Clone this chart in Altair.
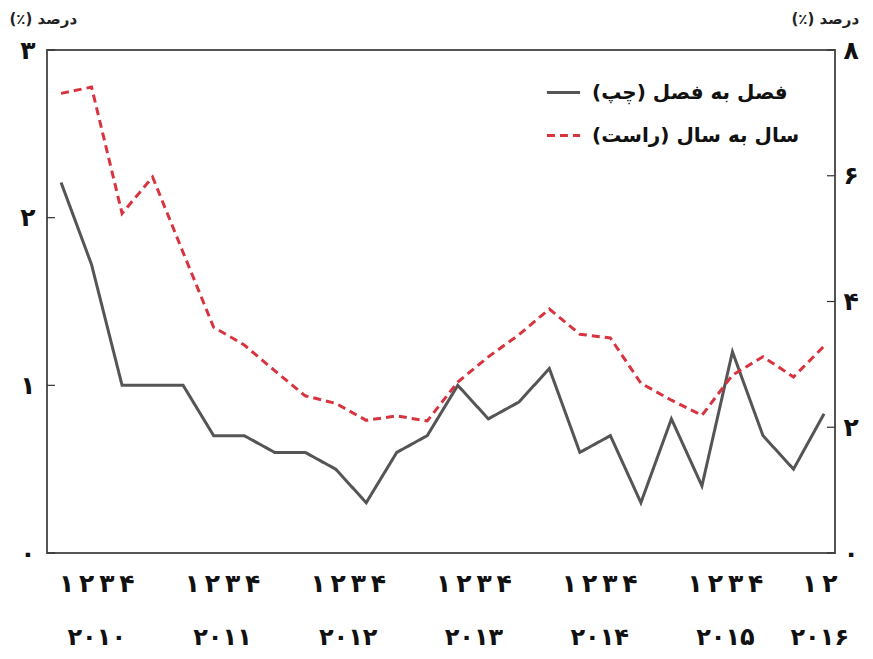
import altair as alt
import pandas as pd

# ---- data ----
quarters = list(range(26))  # 2010Q1 .. 2016Q2
qoq = [2.21, 1.72, 1.0, 1.0, 1.0, 0.7, 0.7, 0.6, 0.6, 0.5, 0.3, 0.6, 0.7,
       1.0, 0.8, 0.9, 1.1, 0.6, 0.7, 0.3, 0.8, 0.4, 1.2, 0.7, 0.5, 0.83]
yoy = [7.31, 7.41, 5.40, 5.98, 4.78, 3.59, 3.31, 2.9, 2.5, 2.38, 2.11, 2.18, 2.1,
       2.72, 3.12, 3.47, 3.88, 3.48, 3.42, 2.7, 2.43, 2.19, 2.83, 3.12, 2.8, 3.29]
years = [2010, 2011, 2012, 2013, 2014, 2015, 2016]
year_labels = ["۲۰۱۰", "۲۰۱۱", "۲۰۱۲", "۲۰۱۳", "۲۰۱۴", "۲۰۱۵", "۲۰۱۶"]
quarter_digits = ["۱", "۲", "۳", "۴"]
series_names = ["فصل به فصل (چپ)\u200f", "سال به سال (راست)\u200f"]
left_ticks = [0, 1, 2, 3]
right_ticks = [0, 2, 4, 6, 8]
left_labels = ["۰", "۱", "۲", "۳"]
right_labels = ["۰", "۲", "۴", "۶", "۸"]
axis_title = "درصد (٪)\u200f"

W, H = 788, 503
X_DOMAIN = [-0.46, 25.36]
FONT = "DejaVu Sans"
GREY = "#555555"
RED = "#d8343f"

df = pd.DataFrame({
    "q": quarters * 2,
    "v": qoq + yoy,
    "s": [series_names[0]] * 26 + [series_names[1]] * 26,
})

# quarter digit labels (compressed within each year group), year labels centred under groups
rows, yrows = [], []
for yi, yr in enumerate(years):
    idxs = [i for i in quarters if 2010 + i // 4 == yr]
    mean = sum(idxs) / len(idxs)
    centre = 12.5 + (mean - 12.5) * 1.03
    for i in idxs:
        rows.append({"q": centre + (i - mean) * 0.66, "t": quarter_digits[i % 4]})
    yrows.append({"q": centre, "t": year_labels[yi]})
qdf = pd.DataFrame(rows)
ydf = pd.DataFrame(yrows)

xenc = alt.X("q:Q", scale=alt.Scale(domain=X_DOMAIN, nice=False, zero=False), axis=None)
legend_cfg = dict(title=None, orient="none", legendX=498, legendY=24,
                  symbolType="stroke", symbolSize=1100, symbolStrokeWidth=3,
                  labelFont=FONT, labelFontSize=20, labelFontWeight="bold",
                  labelColor="#111", labelLimit=400, rowPadding=14, labelOffset=10)
color = alt.Color("s:N", scale=alt.Scale(domain=series_names, range=[GREY, RED]),
                  legend=alt.Legend(**legend_cfg))
dash = alt.StrokeDash("s:N", scale=alt.Scale(domain=series_names, range=[[1, 0], [8, 5]]),
                      legend=alt.Legend(**legend_cfg))

left_expr = "[" + ",".join(f"'{l}'" for l in left_labels) + "][datum.value]"
right_expr = "[" + ",".join(f"'{l}'" for l in right_labels) + "][datum.value/2]"

axis_common = dict(labelFont=FONT, labelFontSize=25, labelFontWeight="bold", labelColor="#111",
                   ticks=False, domain=False, grid=False, titleAngle=0, titleFont=FONT,
                   titleFontSize=15, titleFontWeight="bold", titleColor="#222",
                   titleBaseline="middle", titleAlign="left", titleY=-32)

left_line = alt.Chart(df).transform_filter(alt.datum.s == series_names[0]).mark_line(
    strokeWidth=3, strokeJoin="miter").encode(
    x=xenc,
    y=alt.Y("v:Q", scale=alt.Scale(domain=[0, 3], nice=False),
            axis=alt.Axis(orient="left", values=left_ticks, labelExpr=left_expr,
                          title=axis_title, titleX=-38, labelPadding=12, **axis_common)),
    color=color, strokeDash=dash)

right_line = alt.Chart(df).transform_filter(alt.datum.s == series_names[1]).mark_line(
    strokeWidth=3).encode(
    x=xenc,
    y=alt.Y("v:Q", scale=alt.Scale(domain=[0, 8], nice=False),
            axis=alt.Axis(orient="right", values=right_ticks, labelExpr=right_expr,
                          title=axis_title, titleX=-44, labelPadding=8, **axis_common)),
    color=color, strokeDash=dash)

lt = pd.DataFrame({"v": left_ticks})
rt = pd.DataFrame({"v": right_ticks})
left_tick_marks = alt.Chart(lt).mark_rule(color="#333", strokeWidth=1.2).encode(
    y=alt.Y("v:Q", scale=alt.Scale(domain=[0, 3], nice=False), axis=None),
    x=alt.value(0), x2=alt.value(8))
right_tick_marks = alt.Chart(rt).mark_rule(color="#333", strokeWidth=1.2).encode(
    y=alt.Y("v:Q", scale=alt.Scale(domain=[0, 8], nice=False), axis=None),
    x=alt.value(W - 8), x2=alt.value(W))

qtext = alt.Chart(qdf).mark_text(font=FONT, fontSize=25, fontWeight="bold", color="#111",
                                 baseline="middle").encode(
    x=xenc, y=alt.value(H + 31), text="t:N")
ytext = alt.Chart(ydf).mark_text(font=FONT, fontSize=24, fontWeight="bold", color="#111",
                                 baseline="middle").encode(
    x=xenc, y=alt.value(H + 85), text="t:N")

chart = alt.layer(
    left_line, right_line, left_tick_marks, right_tick_marks, qtext, ytext
).resolve_scale(y="independent").properties(
    width=W, height=H,
    autosize=alt.AutoSizeParams(type="none"),
    padding={"left": 39, "top": 42, "right": 30, "bottom": 100},
).configure_view(stroke="#555", strokeWidth=2)

chart.save("out.html", embed_options={"renderer": "svg", "actions": False})
